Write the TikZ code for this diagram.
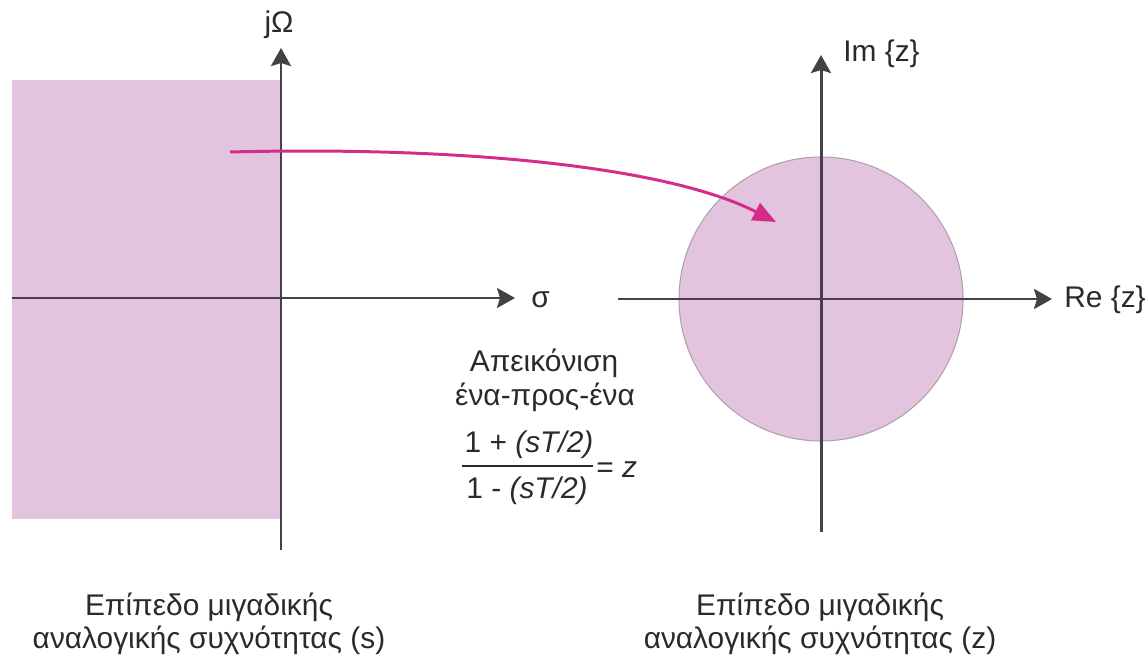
\documentclass[tikz,border=0pt]{standalone}
\usepackage{fontspec}
\setmainfont{Liberation Sans}
\usetikzlibrary{arrows.meta,positioning}
\definecolor{pplane}{HTML}{E2C4DE}
\definecolor{paxis}{HTML}{464146}
\definecolor{pmap}{HTML}{D52C8C}
\definecolor{prim}{HTML}{ABA2AB}
\definecolor{ptext}{HTML}{2A2A2A}
\tikzset{
  axis/.style     = {-{Stealth[length=3.6mm,width=4mm,inset=0.6mm]}, line width=1.7pt, paxis},
  maparrow/.style = {-{Triangle[length=4.6mm,width=3.8mm]}, line width=1.7pt, pmap},
  lab/.style      = {text=ptext, font=\fontsize{17}{18.7}\selectfont, inner sep=0pt},
}
\begin{document}
\begin{tikzpicture}[x=0.02cm,y=-0.02cm]
\useasboundingbox (0,0) rectangle (1148,658);
% s-plane: left half
\fill[pplane] (12,80) rectangle (281,519);
\coordinate (sW) at (12,298);   \coordinate (sE) at (515,298);
\coordinate (sS) at (281,550);  \coordinate (sN) at (281,48);
\draw[axis] (sW) -- (sE);
\draw[axis] (sS) -- (sN);
\node[lab] (jomega) at (279,25) {jΩ};
\node[lab,anchor=west] (sigma) at (531,300) {σ};
% z-plane: unit circle
\coordinate (zO) at (821,299);
\fill[pplane,draw=prim,line width=0.6pt] (zO) circle (142);
\coordinate (zW) at (618,299);  \coordinate (zE) at (1052,299);
\coordinate (zS) at (821,532);  \coordinate (zN) at (821,55);
\draw[axis] (zW) -- (zE);
\draw[axis] (zS) -- (zN);
\node[lab,anchor=west] (imz) at (843,54) {Im \{z\}};
\node[lab,anchor=west] (rez) at (1064,300) {Re \{z\}};
% mapping
\coordinate (mapfrom) at (230,152);
\coordinate (mapto) at (776,222);
\draw[maparrow] (mapfrom) .. controls (470,146) and (670,168) .. (mapto);
\node[lab,anchor=base] (mapname) at (544,371) {Απεικόνιση};
\node[lab,anchor=base] (mapkind) at (545,405) {ένα-προς-ένα};
\node[lab,anchor=base] (num) at (529,452) {1 + \textit{(sT/2)}};
\node[lab,anchor=base] (den) at (527,498) {1 - \textit{(sT/2)}};
\coordinate (barL) at (462,466); \coordinate (barR) at (593,466);
\draw[ptext,line width=1.1pt] (barL) -- (barR);
\node[lab,anchor=base west] (eqz) at (596,477) {= \textit{z}};
% captions
\node[lab,align=center,anchor=base] (scap) at (209,648) {Επίπεδο μιγαδικής\\αναλογικής συχνότητας (s)};
\node[lab,align=center,anchor=base] (zcap) at (820,648) {Επίπεδο μιγαδικής\\αναλογικής συχνότητας (z)};
\end{tikzpicture}
\end{document}
